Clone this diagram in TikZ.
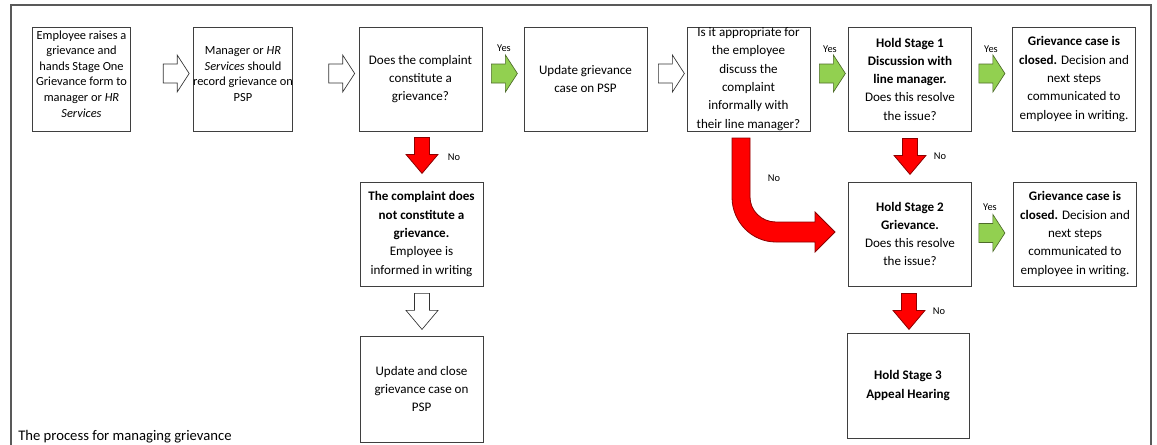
\documentclass[tikz,border=0pt]{standalone}
\usepackage{fontspec}
\setmainfont{Carlito}
\usetikzlibrary{calc}
\definecolor{garis}{HTML}{3F3F3F}
\definecolor{hijau}{HTML}{92D050}
\definecolor{hijaugaris}{HTML}{4E6B2A}
\definecolor{merahgaris}{HTML}{8C0000}

\begin{document}
\begin{tikzpicture}[
    x=0.75pt, y=-0.75pt,
    font=\fontsize{9.8}{13.7}\selectfont,
    proses/.style={draw=garis, line width=0.6pt, minimum width=92.25pt,
                   minimum height=78pt, inner sep=0pt, align=center},
    sempit/.style={proses, minimum width=73.9pt},
    tulisan/.style={align=center, font=\fontsize{9.3}{11.7}\selectfont},
    jawab/.style={font=\fontsize{7.8}{9}\selectfont, inner sep=0pt},
    putih/.style={fill=white, draw=black!80, line width=0.5pt},
    hijauan/.style={fill=hijau, draw=hijaugaris, line width=0.5pt},
    merahan/.style={fill=red, draw=merahgaris, line width=0.6pt},
    kanan/.pic={\path[pic actions] (0,-9.5) -- (14,-9.5) -- (14,-18.5) -- (26,0)
                -- (14,18.5) -- (14,9.5) -- (0,9.5) -- cycle;},
    bawah/.pic={\path[pic actions] (-7.5,0) -- (7.5,0) -- (7.5,17) -- (16,17)
                -- (0,36) -- (-16,17) -- (-7.5,17) -- cycle;}
  ]
    \useasboundingbox (0,0) rectangle (1157,444);
    \draw[draw=black!65, line width=0.8pt] (11,460) |- (1151,5) -- (1151,460);

    % baris atas
    \node[sempit, label={[tulisan, yshift=3.8pt]center:Employee raises a\\grievance and\\hands Stage One\\Grievance form to\\manager or \textit{HR}\\\textit{Services}}]
        (raise) at (81.5,79) {};
    \node[sempit, label={[tulisan, yshift=3.8pt]center:Manager or \textit{HR}\\\textit{Services} should\\record grievance on\\PSP}]
        (record) at (243,79) {};
    \node[proses] (check) at (420.5,79) {Does the complaint\\constitute a\\grievance?};
    \node[proses] (update) at (585.5,79) {Update grievance\\case on PSP};
    \node[proses] (informal) at (748.5,79) {Is it appropriate for\\the employee\\discuss the\\complaint\\informally with\\their line manager?};
    \node[proses] (stage1) at (910,79) {\textbf{Hold Stage 1}\\\textbf{Discussion with}\\\textbf{line manager.}\\Does this resolve\\the issue?};
    \node[proses] (closed1) at (1074,79) {\textbf{Grievance case is}\\\textbf{closed.} Decision and\\next steps\\communicated to\\employee in writing.};

    % cabang bawah
    \node[proses] (notgr) at (421.5,234) {\textbf{The complaint does}\\\textbf{not constitute a}\\\textbf{grievance.}\\Employee is\\informed in writing};
    \node[proses, minimum height=79.5pt] (closecase) at (421.5,389) {Update and close\\grievance case on\\PSP};
    \node[proses] (stage2) at (910,234) {\textbf{Hold Stage 2}\\\textbf{Grievance.}\\Does this resolve\\the issue?};
    \node[proses] (closed2) at (1075,234) {\textbf{Grievance case is}\\\textbf{closed.} Decision and\\next steps\\communicated to\\employee in writing.};
    \node[proses, minimum width=91.5pt, minimum height=78.75pt] (stage3) at (908,385.5) {\textbf{Hold Stage 3}\\\textbf{Appeal Hearing}};

    % panah blok
    \pic[putih] at ($(raise.east)+(32,-5.5)$) {kanan};
    \pic[putih] at ($(record.east)+(36,-5.5)$) {kanan};
    \pic[hijauan] at ($(check.east)+(9,-5.5)$) {kanan};
    \pic[putih] at ($(update.east)+(11,-5.5)$) {kanan};
    \pic[hijauan] at ($(informal.east)+(9,-5.5)$) {kanan};
    \pic[hijauan] at ($(stage1.east)+(7,-5.5)$) {kanan};
    \pic[hijauan] at ($(stage2.east)+(7,-1)$) {kanan};
    \pic[merahan] at ($(check.south)+(1.5,6)$) {bawah};
    \pic[putih] at ($(notgr.south)+(0.5,7)$) {bawah};
    \pic[merahan] at ($(stage1.south)+(0,7)$) {bawah};
    \pic[merahan] at ($(stage2.south)+(-1,7)$) {bawah};

    % panah lengkung ke tahap 2
    \draw[merahan] (732,138) -- (732,197) .. controls (732,221.9) and (751.7,242) .. (776,242)
        -- (815,242) -- (815,252) -- (835,232) -- (815,212) -- (815,222) -- (776,222)
        .. controls (761.6,222) and (750,210.8) .. (750,197) -- (750,138) -- cycle;

    \node[jawab] (ya1) at (504,48) {Yes};
    \node[jawab] (ya2) at (830,49) {Yes};
    \node[jawab] (ya3) at (991,49) {Yes};
    \node[jawab] (ya4) at (990,207) {Yes};
    \node[jawab] (tidak1) at (454,157) {No};
    \node[jawab] (tidak2) at (940,156) {No};
    \node[jawab] (tidak3) at (939,311) {No};
    \node[jawab] (tidak4) at (774,178) {No};

    \node[anchor=west, inner sep=0pt, font=\fontsize{11}{13}\selectfont] (caption) at (18,437) {The process for managing grievance};
  \end{tikzpicture}
\end{document}
